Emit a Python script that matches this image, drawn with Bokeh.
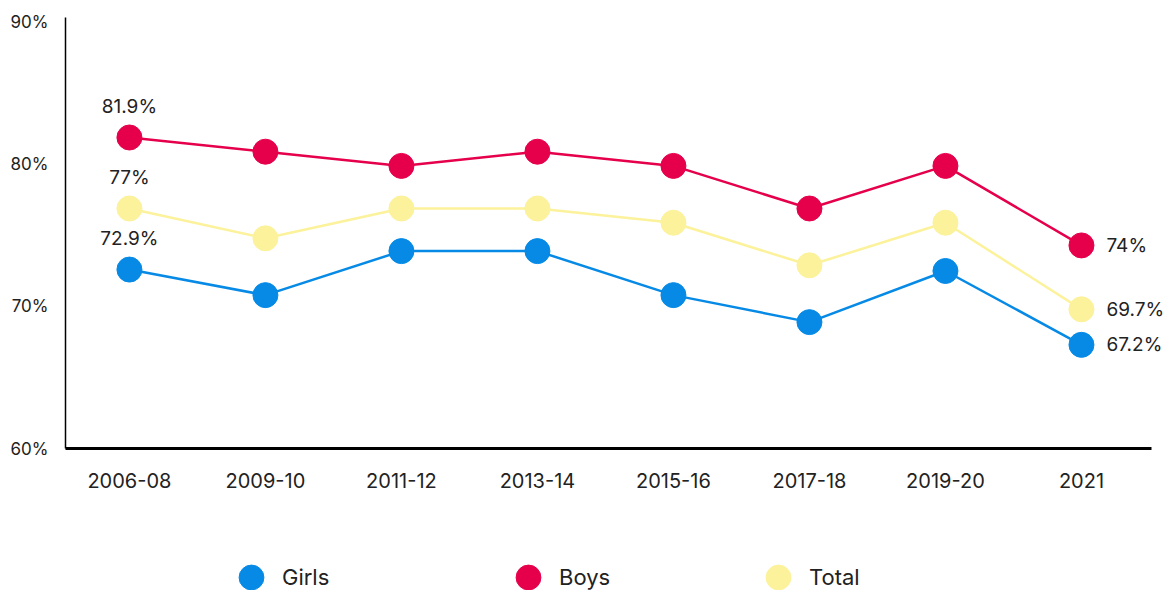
from bokeh.plotting import figure
from bokeh.layouts import column
from bokeh.models import (ColumnDataSource, FixedTicker, PrintfTickFormatter, Legend,
                          LegendItem, Range1d, LabelSet)
from bokeh.core.properties import value
from bokeh.embed import file_html
from bokeh.resources import INLINE

# ---- data ----
periods = ["2006-08", "2009-10", "2011-12", "2013-14", "2015-16", "2017-18", "2019-20", "2021"]
girls = [72.6, 70.8, 73.9, 73.9, 70.8, 68.9, 72.5, 67.3]
boys = [81.9, 80.9, 79.9, 80.9, 79.9, 76.9, 79.9, 74.3]
total = [76.9, 74.8, 76.9, 76.9, 75.9, 72.9, 75.9, 69.8]
y_ticks = [60, 70, 80, 90]
series_names = ["Girls", "Boys", "Total"]
first_labels = ["72.9%", "81.9%", "77%"]
last_labels = ["67.2%", "74%", "69.7%"]
colors = ["#068AE6", "#E6004C", "#FCF29B"]

FONT = "Inter"
TXT = "#222222"

# category positions come from the period index (one slot per period)
xpos = list(range(len(periods)))
n = len(periods)

p = figure(x_range=Range1d(-0.47, n - 1 + 0.64), y_range=Range1d(60, 90.35),
           width=1168, height=506, output_backend="svg", toolbar_location=None,
           min_border_left=65, min_border_right=0, min_border_top=17, min_border_bottom=58)
p.outline_line_color = None
p.grid.grid_line_color = None

series = [girls, boys, total]
sources = {}
for name, vals, col in zip(series_names[::-1], series[::-1], colors[::-1]):
    src = ColumnDataSource(dict(x=xpos, y=vals))
    sources[name] = src
    p.line("x", "y", source=src, line_color=col, line_width=2.5)
    p.scatter("x", "y", source=src, size=25, fill_color=col, line_color=col)

# data labels: first point (above) and last point (right)
fl = ColumnDataSource(dict(x=[xpos[0]] * 3, y=[s[0] for s in series], t=first_labels))
p.add_layout(LabelSet(x="x", y="y", text="t", source=fl, text_align="center",
                      text_baseline="middle", y_offset=31, text_font=value(FONT),
                      text_font_size="19px", text_color=TXT))
ll = ColumnDataSource(dict(x=[xpos[-1]] * 3, y=[s[-1] for s in series], t=last_labels))
p.add_layout(LabelSet(x="x", y="y", text="t", source=ll, text_align="left",
                      text_baseline="middle", x_offset=25, text_font=value(FONT),
                      text_font_size="19px", text_color=TXT))

# axes
p.xaxis.ticker = FixedTicker(ticks=xpos)
p.xaxis.major_label_overrides = {i: lab for i, lab in zip(xpos, periods)}
p.xaxis.bounds = (-0.47, n - 1 + 0.515)
p.yaxis.ticker = FixedTicker(ticks=y_ticks)
p.yaxis.formatter = PrintfTickFormatter(format="%d%%")
for ax in (p.xaxis, p.yaxis):
    ax.major_tick_line_color = None
    ax.minor_tick_line_color = None
    ax.major_tick_out = 0
    ax.major_tick_in = 0
    ax.minor_tick_out = 0
    ax.minor_tick_in = 0
    ax.major_label_text_font = FONT
    ax.major_label_text_color = TXT
    ax.axis_line_color = "black"
p.yaxis.major_label_text_font_size = "17px"
p.xaxis.major_label_text_font_size = "20px"
p.yaxis.axis_line_width = 1.5
p.xaxis.axis_line_width = 3
p.yaxis.major_label_standoff = 17
p.xaxis.major_label_standoff = 24

# legend in its own strip below the chart (proxies are hidden copies of the series)
lf = figure(width=1168, height=84, output_backend="svg", toolbar_location=None,
            x_range=Range1d(0, 1), y_range=Range1d(0, 1),
            min_border_left=0, min_border_right=0, min_border_top=0, min_border_bottom=0)
lf.axis.visible = False
lf.grid.grid_line_color = None
lf.outline_line_color = None
legend_x = [155, 432, 682]
for name, col, lx in zip(series_names, colors, legend_x):
    r = lf.scatter("x", "y", source=sources[name], size=25, fill_color=col,
                   line_color=col, visible=False)
    lg = Legend(items=[LegendItem(label=name, renderers=[r])], location=(lx, -18),
                glyph_width=62, glyph_height=62, label_standoff=0,
                label_text_font=FONT, label_text_font_size="22px", label_text_color=TXT,
                border_line_color=None, background_fill_alpha=0, padding=0, margin=0)
    lf.add_layout(lg, "center")

open("out.html", "w").write(file_html(column(p, lf, spacing=0), INLINE))
